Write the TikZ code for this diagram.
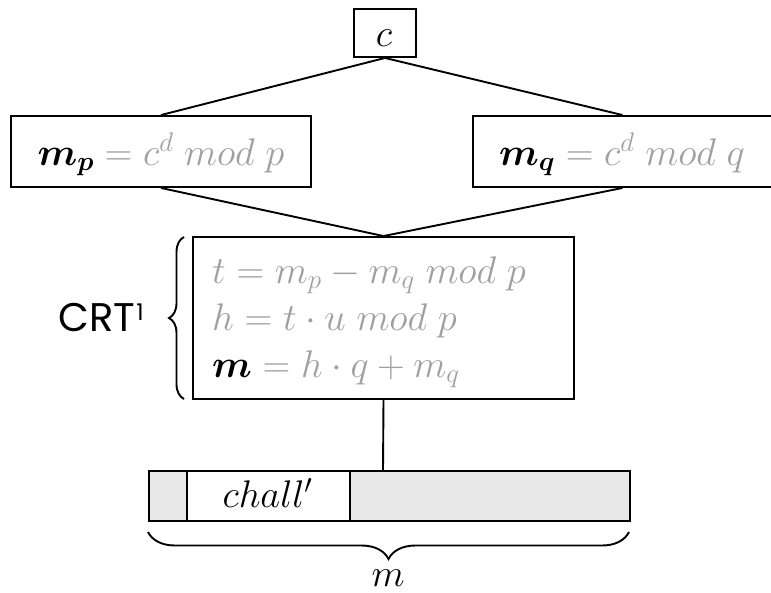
\RequirePackage{fix-cm}
\documentclass[tikz,border=0pt]{standalone}
\usepackage{fontspec}
\usepackage{amsmath}
\usepackage{bm}
\newfontfamily\labelfont{Poppins}
\usetikzlibrary{decorations.pathreplacing}
\definecolor{txtgray}{HTML}{A0A0A0}
\definecolor{barfill}{HTML}{E8E8E8}
\tikzset{
  every picture/.style={x=1pt,y=-1pt},
  boxline/.style={draw=black,line width=1.9pt},
  conn/.style={draw=black,line width=1.9pt},
  mathtxt/.style={font=\fontsize{38.5}{44}\selectfont,text=txtgray,inner sep=0pt},
  bracestyle/.style={draw=black,line width=1.9pt,decorate},
}
\begin{document}
\begin{tikzpicture}
\useasboundingbox (0,0) rectangle (771,592);
% boxes
\node[boxline,minimum width=62pt,minimum height=48pt,inner sep=0pt] (c) at (385,33) {};
\node[mathtxt,text=black,anchor=base] (ct) at (384,46) {$c$};
\node[boxline,minimum width=300pt,minimum height=71pt,inner sep=0pt] (mp) at (161,151.5) {};
\node[mathtxt,anchor=base] (mpt) at (161,165) {$\color{black}\bm{m_p}\color{txtgray} = c^{d}\;mod\;p$};
\node[boxline,minimum width=299pt,minimum height=71pt,inner sep=0pt] (mq) at (622.5,151.5) {};
\node[mathtxt,anchor=base] (mqt) at (622,165) {$\color{black}\bm{m_q}\color{txtgray} = c^{d}\;mod\;q$};
\node[boxline,minimum width=381pt,minimum height=162pt,inner sep=0pt] (crt) at (383.5,318) {};
\node[mathtxt,anchor=base west] (l1) at (212,283) {$t = m_p - m_q\;mod\;p$};
\node[mathtxt,anchor=base west] (l2) at (212,330) {$h = t\cdot u\;mod\;p$};
\node[mathtxt,anchor=base west] (l3) at (212,377) {$\color{black}\bm{m}\color{txtgray} = h\cdot q + m_q$};
% CRT label
\node[font=\labelfont\fontsize{40}{46}\selectfont,anchor=base east,inner sep=0pt] (crtlbl) at (144,331) {CRT\kern1pt\raisebox{11pt}{\labelfont\fontsize{23}{26}\selectfont 1}};
\draw[bracestyle,decoration={brace,amplitude=15pt,aspect=0.5}] (184,399) -- (184,237);
% bar
\node[boxline,fill=barfill,minimum width=38pt,minimum height=50pt,inner sep=0pt,anchor=north west] (b1) at (148,470) {};
\node[boxline,fill=white,minimum width=163pt,minimum height=50pt,inner sep=0pt,anchor=north west] (b2) at (186,470) {};
\node[boxline,fill=barfill,minimum width=280pt,minimum height=50pt,inner sep=0pt,anchor=north west] (b3) at (349,470) {};
\node[mathtxt,text=black,anchor=base] (chall) at (267.5,507) {$chall'$};
\coordinate (bartop) at (383,470);
\draw[bracestyle,decoration={brace,amplitude=27pt,aspect=0.5}] (629,532) -- (148,532);
\node[mathtxt,text=black,anchor=base] (mlbl) at (388,586) {$m$};
% connectors
\draw[conn] (c.south) -- (mp.north);
\draw[conn] (c.south) -- (mq.north);
\draw[conn] (mp.south) -- (crt.north);
\draw[conn] (mq.south) -- (crt.north);
\draw[conn] (crt.south) -- (bartop);
\end{tikzpicture}
\end{document}
